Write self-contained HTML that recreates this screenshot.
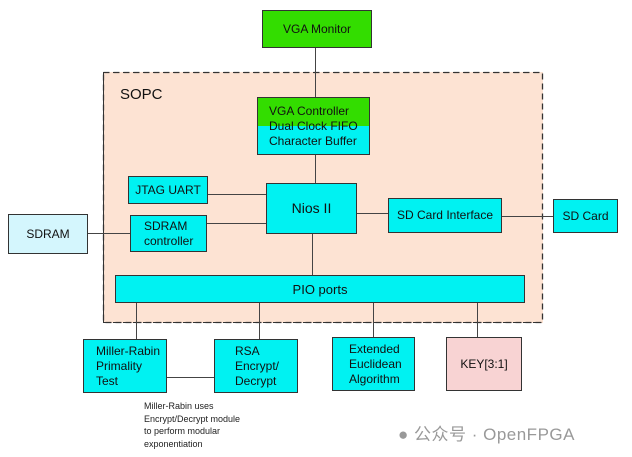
<!DOCTYPE html>
<html><head><style>
body{margin:0;width:632px;height:457px;background:#fff;position:relative;font-family:"Liberation Sans","Noto Sans CJK SC",sans-serif;overflow:hidden}
.b{position:absolute;box-sizing:border-box;border:1.5px solid #333;background:#00f2f2;font-size:12px;color:#111;display:flex;align-items:center;justify-content:center;text-align:left;line-height:15px}
.l{position:absolute;background:#444}
</style></head><body>
<div style="position:absolute;left:103px;top:72px;width:440px;height:251px;box-sizing:border-box;border:1.3px dashed #333;background:#fde3d3;border-image:repeating-linear-gradient(90deg,#333 0 6px,transparent 6px 10px) 1"></div>
<svg style="position:absolute;left:0;top:0" width="632" height="457"><rect x="103.5" y="72.5" width="439" height="250" fill="none" stroke="#333" stroke-width="1.3" stroke-dasharray="6,4"/></svg>
<div style="position:absolute;left:120px;top:86px;font-size:15px;color:#111">SOPC</div>
<div class="l" style="left:315px;top:48px;width:1px;height:50px"></div>
<div class="l" style="left:315px;top:155px;width:1px;height:29px"></div>
<div class="l" style="left:208px;top:194px;width:58px;height:1px"></div>
<div class="l" style="left:207px;top:223px;width:59px;height:1px"></div>
<div class="l" style="left:88px;top:233px;width:42px;height:1px"></div>
<div class="l" style="left:357px;top:213px;width:31px;height:1px"></div>
<div class="l" style="left:502px;top:216px;width:51px;height:1px"></div>
<div class="l" style="left:312px;top:234px;width:1px;height:42px"></div>
<div class="l" style="left:136px;top:303px;width:1px;height:37px"></div>
<div class="l" style="left:259px;top:303px;width:1px;height:37px"></div>
<div class="l" style="left:373px;top:303px;width:1px;height:35px"></div>
<div class="l" style="left:477px;top:303px;width:1px;height:35px"></div>
<div class="l" style="left:167px;top:377px;width:47px;height:1px"></div>
<div class="b" style="left:262px;top:10px;width:110px;height:38px;background:#33dd00">VGA Monitor</div>
<div class="b" style="left:257px;top:97px;width:113px;height:58px;background:linear-gradient(#33dd00 0,#33dd00 50%,#00f2f2 50%);justify-content:flex-start;padding-left:11px;line-height:15px">VGA Controller<br>Dual Clock FIFO<br>Character Buffer</div>
<div class="b" style="left:128px;top:176px;width:80px;height:28px">JTAG UART</div>
<div class="b" style="left:266px;top:183px;width:91px;height:51px;font-size:14px">Nios II</div>
<div class="b" style="left:130px;top:215px;width:77px;height:37px;justify-content:flex-start;padding-left:13px">SDRAM<br>controller</div>
<div class="b" style="left:8px;top:214px;width:80px;height:40px;background:#d4f6fd">SDRAM</div>
<div class="b" style="left:388px;top:198px;width:114px;height:35px">SD Card Interface</div>
<div class="b" style="left:553px;top:199px;width:65px;height:34px">SD Card</div>
<div class="b" style="left:115px;top:275px;width:410px;height:28px;font-size:13px">PIO ports</div>
<div class="b" style="left:83px;top:339px;width:84px;height:54px;justify-content:flex-start;padding-left:12px">Miller-Rabin<br>Primality<br>Test</div>
<div class="b" style="left:214px;top:339px;width:84px;height:54px;justify-content:flex-start;padding-left:20px">RSA<br>Encrypt/<br>Decrypt</div>
<div class="b" style="left:332px;top:337px;width:83px;height:54px;justify-content:flex-start;padding-left:16px">Extended<br>Euclidean<br>Algorithm</div>
<div class="b" style="left:446px;top:337px;width:76px;height:54px;background:#f8d3d3">KEY[3:1]</div>
<div style="position:absolute;left:144px;top:400px;font-size:9px;line-height:12.5px;color:#222">Miller-Rabin uses<br>Encrypt/Decrypt module<br>to perform modular<br>exponentiation</div>
<div style="position:absolute;left:398px;top:420px;font-size:17px;color:#999;letter-spacing:0.5px">● 公众号 · OpenFPGA</div>
</body></html>
